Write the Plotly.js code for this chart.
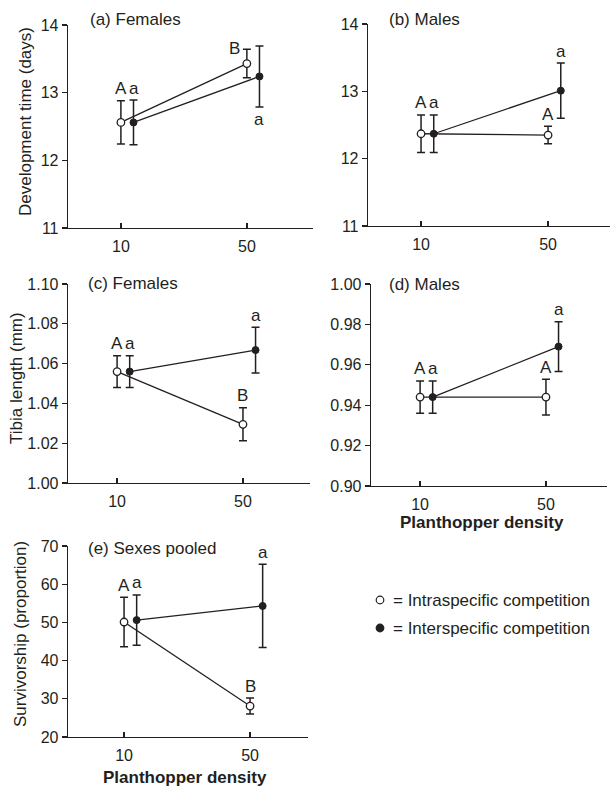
<!DOCTYPE html>
<html>
<head>
<meta charset="utf-8">
<script src="https://cdn.plot.ly/plotly-3.0.1.min.js"></script>
<style>html,body{margin:0;padding:0;background:#fff;}#chart{width:610px;height:786px;}</style>
</head>
<body>
<div id="chart"></div>
<script>
// ---------- DATA ----------
const densities = [10, 50];
const densityLabels = ['10', '50'];

// (a) Females – development time (days)
const devF_intra = [12.56, 13.43];
const devF_intraErr = [0.32, 0.21];
const devF_inter = [12.56, 13.24];
const devF_interErr = [0.33, 0.45];
const devF_intraLetters = ['A', 'B'];
const devF_interLetters = ['a', 'a'];

// (b) Males – development time (days)
const devM_intra = [12.37, 12.35];
const devM_intraErr = [0.28, 0.13];
const devM_inter = [12.37, 13.01];
const devM_interErr = [0.28, 0.41];
const devM_intraLetters = ['A', 'A'];
const devM_interLetters = ['a', 'a'];

// (c) Females – tibia length (mm)
const tibF_intra = [1.056, 1.0295];
const tibF_intraErr = [0.008, 0.0083];
const tibF_inter = [1.056, 1.0668];
const tibF_interErr = [0.008, 0.0115];
const tibF_intraLetters = ['A', 'B'];
const tibF_interLetters = ['a', 'a'];

// (d) Males – tibia length (mm)
const tibM_intra = [0.944, 0.944];
const tibM_intraErr = [0.008, 0.0088];
const tibM_inter = [0.944, 0.969];
const tibM_interErr = [0.008, 0.0123];
const tibM_intraLetters = ['A', 'A'];
const tibM_interLetters = ['a', 'a'];

// (e) Sexes pooled – survivorship (proportion)
const surv_intra = [50.1, 28.1];
const surv_intraErr = [6.5, 2.1];
const surv_inter = [50.6, 54.3];
const surv_interErr = [6.6, 10.9];
const surv_intraLetters = ['A', 'B'];
const surv_interLetters = ['a', 'a'];

// tick labels
const devTicks = [11, 12, 13, 14];
const devTickText = ['11', '12', '13', '14'];
const tibFTicks = [1.00, 1.02, 1.04, 1.06, 1.08, 1.10];
const tibFTickText = ['1.00', '1.02', '1.04', '1.06', '1.08', '1.10'];
const tibMTicks = [0.90, 0.92, 0.94, 0.96, 0.98, 1.00];
const tibMTickText = ['0.90', '0.92', '0.94', '0.96', '0.98', '1.00'];
const survTicks = [20, 30, 40, 50, 60, 70];
const survTickText = ['20', '30', '40', '50', '60', '70'];

const panelTitles = ['(a) Females', '(b) Males', '(c) Females', '(d) Males', '(e) Sexes pooled'];
const yTitles = ['Development time (days)', 'Tibia length (mm)', 'Survivorship (proportion)'];
const xTitle = 'Planthopper density';
const legendLabels = ['= Intraspecific competition', '= Interspecific competition'];

// ---------- STYLE / LAYOUT ----------
const W = 610, H = 786;
const INK = '#231f20';
const FONT = 'Liberation Sans, Arial, Helvetica, sans-serif';
const FS = 17;
const TFS = 16;
const JIT = 4; // horizontal offset of interspecific points (data units)
const px = v => v / W;
const py = v => 1 - v / H;

const traces = [];
const annotations = [];
const layout = {
  width: W, height: H,
  margin: {l: 0, r: 0, t: 0, b: 0},
  paper_bgcolor: '#fff', plot_bgcolor: 'rgba(0,0,0,0)',
  showlegend: false,
  font: {family: FONT, size: FS, color: INK},
  annotations: annotations,
  shapes: []
};

function letter(xr, yr, x, y, t, place) {
  const a = {x: x, y: y, xref: xr, yref: yr, text: t, showarrow: false,
    font: {family: FONT, size: FS, color: INK}, xanchor: 'center', yanchor: 'middle'};
  if (place === 'below') { a.yshift = -13; }
  else if (place === 'left') { a.xshift = -12; a.yshift = 1; }
  else { a.yshift = 12; }
  annotations.push(a);
}

function addPanel(n, cfg) {
  const xa = n === 1 ? 'xaxis' : 'xaxis' + n;
  const ya = n === 1 ? 'yaxis' : 'yaxis' + n;
  const xr = n === 1 ? 'x' : 'x' + n;
  const yr = n === 1 ? 'y' : 'y' + n;
  layout[xa] = {
    domain: cfg.xdom, range: cfg.xrange, anchor: yr,
    showline: true, linecolor: INK, linewidth: 1.3,
    ticks: 'inside', ticklen: 5, tickwidth: 1.3, tickcolor: INK,
    tickvals: densities, ticktext: densityLabels,
    showgrid: false, zeroline: false, fixedrange: true,
    tickfont: {family: FONT, size: TFS, color: INK}, ticklabelstandoff: 3
  };
  layout[ya] = {
    domain: cfg.ydom, range: cfg.yrange, anchor: xr,
    showline: true, linecolor: INK, linewidth: 1.3,
    ticks: 'outside', ticklen: 5, tickwidth: 1.3, tickcolor: INK,
    tickvals: cfg.ticks, ticktext: cfg.tickText,
    showgrid: false, zeroline: false, fixedrange: true,
    tickfont: {family: FONT, size: TFS, color: INK}
  };
  const xInter = densities.map(d => d + JIT);
  const errStyle = (arr) => ({type: 'data', array: arr, visible: true, color: INK, thickness: 1.5, width: 4});
  traces.push({
    x: xInter, y: cfg.inter, xaxis: xr, yaxis: yr, type: 'scatter', mode: 'lines+markers',
    line: {color: INK, width: 1.3},
    marker: {symbol: 'circle', size: 7, color: INK, line: {color: INK, width: 1}},
    error_y: errStyle(cfg.interErr), hoverinfo: 'skip'
  });
  traces.push({
    x: densities, y: cfg.intra, xaxis: xr, yaxis: yr, type: 'scatter', mode: 'lines+markers',
    line: {color: INK, width: 1.3},
    marker: {symbol: 'circle', size: 7.5, color: '#fff', line: {color: INK, width: 1.3}},
    error_y: errStyle(cfg.intraErr), hoverinfo: 'skip'
  });
  densities.forEach((d, i) => {
    const pI = (cfg.intraPlace && cfg.intraPlace[i]) || 'above';
    const pE = (cfg.interPlace && cfg.interPlace[i]) || 'above';
    const yE = pE === 'below' ? cfg.inter[i] - cfg.interErr[i] : cfg.inter[i] + cfg.interErr[i];
    letter(xr, yr, xInter[i], yE, cfg.interLetters[i], pE);
    letter(xr, yr, d, cfg.intra[i] + cfg.intraErr[i], cfg.intraLetters[i], pI);
  });
  annotations.push({x: px(cfg.title[0]), y: py(cfg.title[1]), xref: 'paper', yref: 'paper',
    text: cfg.titleText, showarrow: false, xanchor: 'left', yanchor: 'middle',
    font: {family: FONT, size: FS, color: INK}});
}

addPanel(1, {xdom: [px(68), px(313)], ydom: [py(228), py(25)], xrange: [-6.8, 71], yrange: [11, 14],
  ticks: devTicks, tickText: devTickText,
  intra: devF_intra, intraErr: devF_intraErr, inter: devF_inter, interErr: devF_interErr,
  intraLetters: devF_intraLetters, interLetters: devF_interLetters,
  intraPlace: ['above', 'left'], interPlace: ['above', 'below'],
  title: [88, 19], titleText: panelTitles[0]});
addPanel(2, {xdom: [px(368), px(610)], ydom: [py(226), py(24)], xrange: [-6.7, 69.5], yrange: [11, 14],
  ticks: devTicks, tickText: devTickText,
  intra: devM_intra, intraErr: devM_intraErr, inter: devM_inter, interErr: devM_interErr,
  intraLetters: devM_intraLetters, interLetters: devM_interLetters,
  title: [387, 19], titleText: panelTitles[1]});
addPanel(3, {xdom: [px(68), px(310)], ydom: [py(483), py(284)], xrange: [-5.6, 71.3], yrange: [1.0, 1.1],
  ticks: tibFTicks, tickText: tibFTickText,
  intra: tibF_intra, intraErr: tibF_intraErr, inter: tibF_inter, interErr: tibF_interErr,
  intraLetters: tibF_intraLetters, interLetters: tibF_interLetters,
  title: [86, 283], titleText: panelTitles[2]});
addPanel(4, {xdom: [px(371), px(607)], ydom: [py(486), py(284)], xrange: [-5.6, 69.4], yrange: [0.9, 1.0],
  ticks: tibMTicks, tickText: tibMTickText,
  intra: tibM_intra, intraErr: tibM_intraErr, inter: tibM_inter, interErr: tibM_interErr,
  intraLetters: tibM_intraLetters, interLetters: tibM_interLetters,
  title: [387, 284], titleText: panelTitles[3]});
addPanel(5, {xdom: [px(68), px(308)], ydom: [py(737), py(546)], xrange: [-7.8, 68.4], yrange: [20, 70],
  ticks: survTicks, tickText: survTickText,
  intra: surv_intra, intraErr: surv_intraErr, inter: surv_inter, interErr: surv_interErr,
  intraLetters: surv_intraLetters, interLetters: surv_interLetters,
  title: [86, 548], titleText: panelTitles[4]});

// y-axis titles
[[yTitles[0], 25, 122], [yTitles[1], 16, 378], [yTitles[2], 20, 634]].forEach(t => {
  annotations.push({x: px(t[1]), y: py(t[2]), xref: 'paper', yref: 'paper', text: t[0],
    textangle: -90, showarrow: false, xanchor: 'center', yanchor: 'middle',
    font: {family: FONT, size: FS, color: INK}});
});
// x-axis titles
[[482, 522], [185, 777]].forEach(p => {
  annotations.push({x: px(p[0]), y: py(p[1]), xref: 'paper', yref: 'paper', text: '<b>' + xTitle + '</b>',
    showarrow: false, xanchor: 'center', yanchor: 'middle',
    font: {family: FONT, size: FS, color: INK}});
});
// key
const keyY = [600, 628];
keyY.forEach((yy, i) => {
  annotations.push({x: px(391), y: py(yy), xref: 'paper', yref: 'paper', text: legendLabels[i],
    showarrow: false, xanchor: 'left', yanchor: 'middle', font: {family: FONT, size: FS, color: INK}});
  const r = 3.8;
  layout.shapes.push({type: 'circle', xref: 'paper', yref: 'paper',
    x0: px(380 - r), x1: px(380 + r), y0: py(yy + r), y1: py(yy - r),
    fillcolor: i === 0 ? '#fff' : INK, line: {color: INK, width: 1.2}});
});

Plotly.newPlot('chart', traces, layout, {staticPlot: true, displayModeBar: false});
</script>
</body>
</html>
